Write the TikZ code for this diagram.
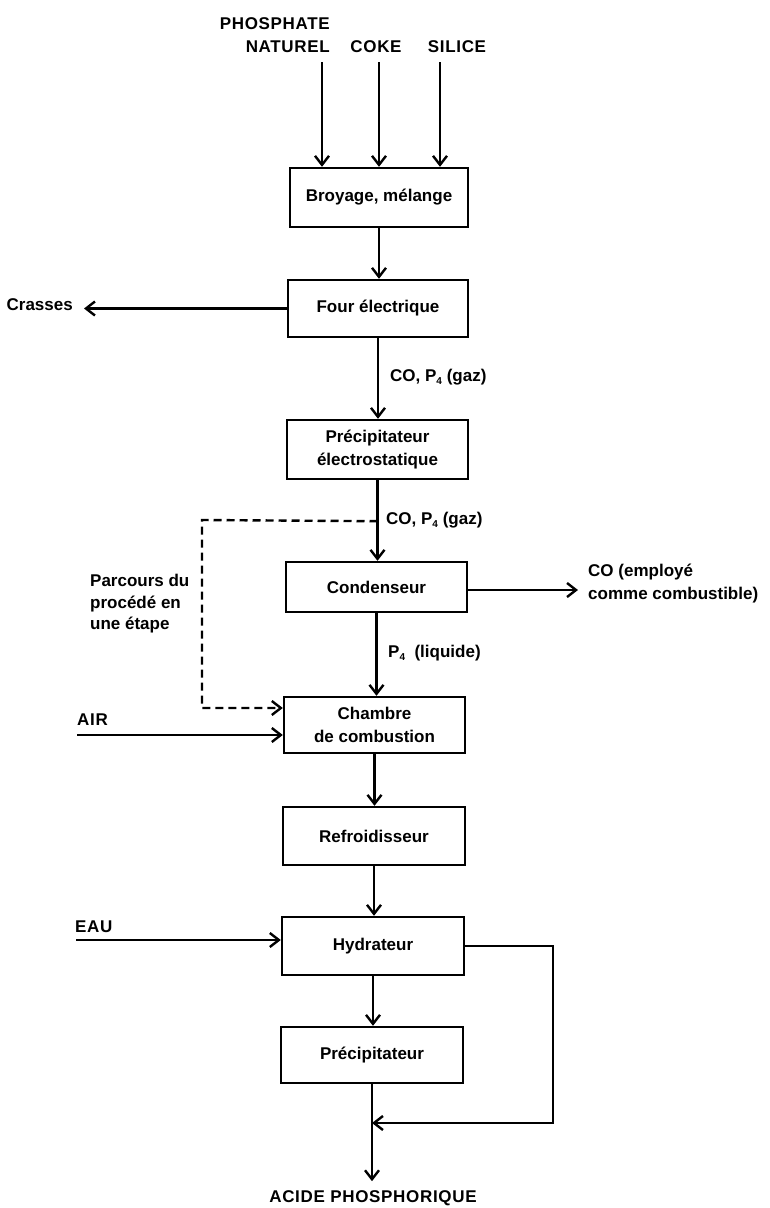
\documentclass[tikz,border=0pt]{standalone}
\usepackage{fontspec}
\setmainfont{Liberation Sans}
\newfontfamily\capsfont[LetterSpace=4]{Liberation Sans}
\usetikzlibrary{arrows.meta}
\newcommand{\sub}[1]{\raisebox{-0.35ex}{\fontsize{10}{10}\selectfont #1}}
\begin{document}
\begin{tikzpicture}[x=1pt,y=-1pt,
  every node/.style={font=\fontsize{17}{23}\selectfont\bfseries, inner sep=0pt},
  box/.style={draw, line width=2.4pt, minimum width=181pt, align=center},
  caps/.style={font=\capsfont\fontsize{17}{23}\selectfont\bfseries},
  arr/.style={line width=2.4pt, -{Straight Barb[length=9pt,width=14pt,line width=2.4pt]}},
  dasharr/.style={arr, dash pattern=on 8pt off 5pt}]
\useasboundingbox (0,0) rectangle (769,1208);

% boxes
\node[box, minimum width=178pt, minimum height=59pt] (b1) at (379,197.5) {Broyage, mélange};
\node[box, minimum width=180pt, minimum height=57pt] (b2) at (378,308.5) {Four électrique};
\node[box, minimum width=181pt, minimum height=59pt] (b3) at (377.5,449.5) {Précipitateur\\électrostatique};
\node[box, minimum width=181pt, minimum height=50pt] (b4) at (376.5,587) {Condenseur};
\node[box, minimum width=181pt, minimum height=56pt] (b5) at (374.5,725) {Chambre\\de combustion};
\node[box, minimum width=182pt, minimum height=58pt] (b6) at (374,836) {Refroidisseur};
\node[box, minimum width=182pt, minimum height=58pt] (b7) at (373,946) {Hydrateur};
\node[box, minimum width=182pt, minimum height=56pt] (b8) at (372,1055) {Précipitateur};

% labels
\node[caps, align=right, anchor=east] (phos) at (330,35.5) {PHOSPHATE\\NATUREL};
\node[caps] (coke) at (376,47) {COKE};
\node[caps] (sil) at (457,47) {SILICE};
\node[anchor=east] (crasses) at (73,305) {Crasses};
\node[anchor=west] (gaz1) at (390,377) {CO, P\sub{4} (gaz)};
\node[anchor=west] (gaz2) at (386,520) {CO, P\sub{4} (gaz)};
\node[anchor=west, align=left] (co) at (588,583.5) {CO (employé\\comme combustible)};
\node[anchor=west, align=left, font=\fontsize{17}{21.5}\selectfont\bfseries] (parc) at (90,604) {Parcours du\\procédé en\\une étape};
\node[anchor=west] (liq) at (388,653) {P\sub{4} \ (liquide)};
\node[caps, anchor=west] (air) at (77,720) {AIR};
\node[caps, anchor=west] (eau) at (75,927) {EAU};
\node[caps] (acid) at (373,1198) {ACIDE PHOSPHORIQUE};

% inputs at the top
\coordinate (sP) at (322,62);
\coordinate (sC) at (379,62);
\coordinate (sS) at (440,62);
\draw[arr] (sP) -- (sP |- b1.north);
\draw[arr] (sC) -- (sC |- b1.north);
\draw[arr] (sS) -- (sS |- b1.north);

% main chain
\draw[arr] (b1.south) -- (b1.south |- b2.north);
\draw[arr] (b2.west) -- ([xshift=11pt]crasses.east |- b2.west);
\draw[arr] (b2.south) -- (b2.south |- b3.north);
\draw[arr] (b3.south) -- (b3.south |- b4.north);
\path (b3.south) ++(0,41) coordinate (dj);
\coordinate (dc1) at (202,520);
\coordinate (dc2) at (202,708);
\draw[dasharr] (dj) -- (dc1) -- (dc2) -- (dc2 -| b5.west);
\draw[arr] (b4.east |- 0,590) -- (578,590) coordinate (coend);
\draw[arr] (b4.south) -- (b4.south |- b5.north);
\coordinate (sA) at (77,735);
\draw[arr] (sA) -- (sA -| b5.west);
\draw[arr] (b5.south) -- (b5.south |- b6.north);
\draw[arr] (b6.south) -- (b6.south |- b7.north);
\coordinate (sE) at (76,940);
\draw[arr] (sE) -- (sE -| b7.west);
\draw[arr] (b7.south) -- (b7.south |- b8.north);
\coordinate (l1) at (553,946);
\coordinate (l2) at (553,1123);
\draw[arr] (b7.east) -- (l1) -- (l2) -- (l2 -| b8.south);
\draw[arr] (b8.south) -- ([yshift=9pt]acid.north -| b8.south);
\end{tikzpicture}
\end{document}
